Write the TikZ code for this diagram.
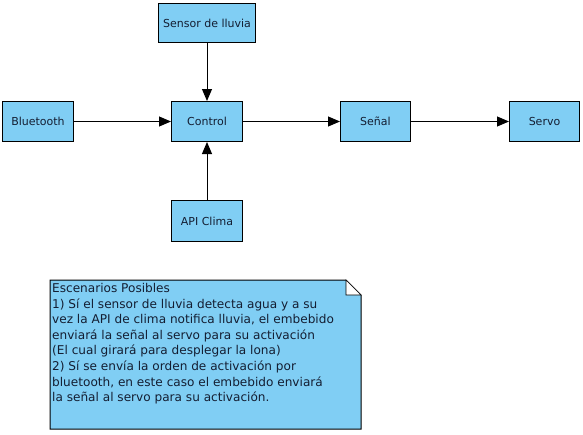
\documentclass[tikz,border=0pt]{standalone}
\usepackage{fontspec}
\setmainfont{DejaVu Sans}
\usetikzlibrary{arrows.meta}
\definecolor{boxfill}{RGB}{128,206,244}
\definecolor{txt}{RGB}{20,30,50}
\begin{document}
\begin{tikzpicture}[x=1pt,y=-1pt,
  blk/.style={draw=black,fill=boxfill,line width=1pt,inner sep=0pt,anchor=north west,font=\fontsize{11}{13}\selectfont,text=txt},
  conn/.style={line width=1pt,-{Triangle[length=12pt,width=10pt]}}]
\useasboundingbox (0,0) rectangle (583,434);
\node[blk,minimum width=97pt,minimum height=39pt] (sensor) at (158,3) {Sensor de lluvia};
\node[blk,minimum width=71pt,minimum height=40pt] (bt) at (2,101) {Bluetooth};
\node[blk,minimum width=71pt,minimum height=40pt] (ctrl) at (171,101) {Control};
\node[blk,minimum width=70pt,minimum height=40pt] (senal) at (340,101) {Señal};
\node[blk,minimum width=70pt,minimum height=40pt] (servo) at (509,101) {Servo};
\node[blk,minimum width=71pt,minimum height=41pt] (api) at (171,200) {API Clima};
\draw[conn] (bt.east) -- (ctrl.west);
\draw[conn] (ctrl.east) -- (senal.west);
\draw[conn] (senal.east) -- (servo.west);
\draw[conn] (sensor.south) -- (ctrl.north);
\draw[conn] (api.north) -- (ctrl.south);
% note
\coordinate (n1) at (50,280);
\coordinate (n2) at (346,280);
\coordinate (n3) at (361,295);
\coordinate (n4) at (361,429);
\coordinate (n5) at (50,429);
\draw[fill=boxfill,line width=1pt] (n1) -- (n2) -- (n3) -- (n4) -- (n5) -- cycle;
\draw[fill=white,line width=0.6pt] (n2) -- (346,295) -- (n3) -- cycle;
\node[anchor=north west,inner sep=0pt,align=left,text=txt,font=\fontsize{12.1}{15.6}\selectfont] (note) at (52,283)
{Escenarios Posibles\\
1) Sí el sensor de lluvia detecta agua y a su\\
vez la API de clima notifica lluvia, el embebido\\
enviará la señal al servo para su activación\\
(El cual girará para desplegar la lona)\\
2) Sí se envía la orden de activación por\\
bluetooth, en este caso el embebido enviará\\
la señal al servo para su activación.};
\end{tikzpicture}
\end{document}
